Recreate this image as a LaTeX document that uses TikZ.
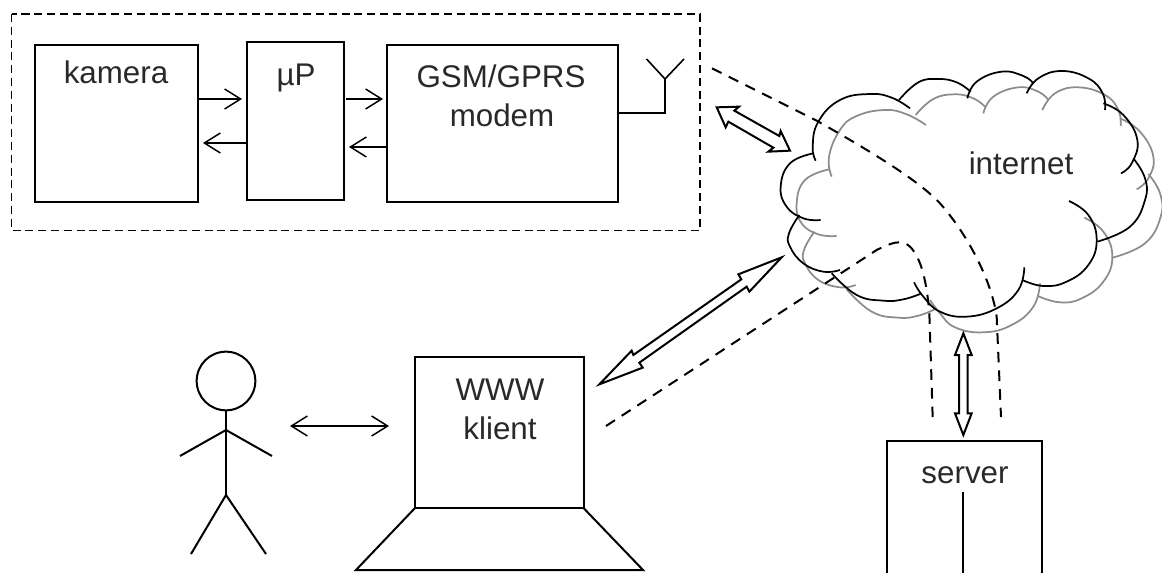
\documentclass[tikz,border=0pt]{standalone}
\usepackage{fontspec}
\setmainfont{Liberation Sans}
\usetikzlibrary{arrows.meta}
\definecolor{ink}{gray}{0.16}
\definecolor{cloudgray}{gray}{0.55}
\tikzset{
  boxed/.style={draw=black,line width=1.5pt,minimum width=#1,inner sep=0pt,outer sep=0pt},
  lbl/.style={anchor=base,text=ink,font=\fontsize{23.5pt}{28pt}\selectfont,inner sep=0pt},
  thinarrow/.style={line width=1.1pt,-{Straight Barb[length=12pt,width=15pt,line width=1.1pt]}},
  thinboth/.style={line width=1.1pt,{Straight Barb[length=12pt,width=15pt,line width=1.1pt]}-{Straight Barb[length=12pt,width=15pt,line width=1.1pt]}},
  solidline/.style={line width=1.5pt,line join=miter},
  dashline/.style={line width=1.5pt,dash pattern=on 8pt off 6pt},
  boxdash/.style={line width=1.2pt,dash pattern=on 6pt off 3.6pt},
  fat/.style={line width=1.5pt,line join=miter,fill=white},
  cb/.style={line width=1.3pt,black},
  cg/.style={line width=1.3pt,cloudgray},
}
\newcommand{\arcp}[2]{\draw[#1] plot[smooth,tension=0.75] coordinates {#2};}
\begin{document}
\begin{tikzpicture}[x=0.75pt,y=-0.75pt]
\useasboundingbox (0,0) rectangle (1162,573);
% device group
\draw[boxdash] (11.5,14) rectangle (700,230.5);
\draw[solidline] (35,45) rectangle (198,202);
\draw[solidline] (247,42) rectangle (344,200);
\draw[solidline] (387,45) rectangle (618,202);
\coordinate (ka) at (197,99); \coordinate (pa) at (242,99);
\coordinate (kb) at (203,143); \coordinate (pb) at (247,143);
\coordinate (pc) at (346,99); \coordinate (ga) at (383,99);
\coordinate (pd) at (349,147); \coordinate (gb) at (387,147);
\draw[thinarrow] (ka) -- (pa);
\draw[thinarrow] (pb) -- (kb);
\draw[thinarrow] (pc) -- (ga);
\draw[thinarrow] (gb) -- (pd);
\node[lbl] (tkam) at (116,84) {kamera};
\node[lbl] (tup) at (296,86) {µP};
\node[lbl] (tgsm) at (501,88) {GSM/GPRS};
\node[lbl] (tmod) at (502,127) {modem};
% antenna
\draw[solidline] (618,113) -- (665,113) -- (665,79);
\draw[line width=1.2pt] (646.5,59) -- (665,79) -- (684,59);
% cloud and its lines, in crop coordinates
\begin{scope}[shift={(690,50)},x=0.25pt,y=-0.25pt]
\arcp{cg}{(708,225)(650,193)(585,180)(500,198)(450,240)(417,320)(425,380)}
\arcp{cg}{(677,195)(730,147)(795,133)(850,145)(885,170)}
\arcp{cg}{(880,190)(910,140)(985,112)(1045,125)(1075,150)}
\arcp{cg}{(1057,180)(1095,130)(1165,112)(1245,135)(1285,180)(1292,228)}
\arcp{cg}{(1290,205)(1350,245)(1390,320)(1375,385)(1340,418)}
\arcp{cg}{(1375,372)(1410,430)(1412,500)(1365,580)(1268,623)}
\arcp{cg}{(1183,503)(1240,545)(1267,620)(1240,695)(1175,745)(1110,757)(1043,738)}
\arcp{cg}{(1050,700)(1030,770)(965,825)(880,847)(795,832)(750,790)(720,750)}
\arcp{cg}{(740,775)(685,797)(625,803)(545,785)(470,718)}
\arcp{cg}{(497,705)(450,712)(385,690)(345,640)(342,600)(373,545)}
\arcp{cg}{(440,558)(385,553)(335,520)(320,460)(345,390)(417,358)}
\arcp{cb}{(660,175)(605,143)(540,132)(450,150)(385,215)(368,290)(377,332)}
\arcp{cb}{(627,150)(685,97)(745,87)(800,97)(842,125)}
\arcp{cb}{(832,145)(860,95)(935,65)(1000,78)(1030,100)}
\arcp{cb}{(1010,130)(1045,85)(1115,63)(1195,85)(1238,130)(1245,180)}
\arcp{cb}{(1240,160)(1300,195)(1342,270)(1325,340)(1293,370)}
\arcp{cb}{(1330,325)(1365,385)(1365,450)(1320,530)(1222,575)}
\arcp{cb}{(1137,453)(1195,495)(1220,570)(1195,645)(1130,695)(1060,708)(997,690)}
\arcp{cb}{(1003,652)(985,720)(920,775)(830,800)(750,785)(700,740)(672,697)}
\arcp{cb}{(695,730)(640,748)(580,752)(500,735)(425,670)}
\arcp{cb}{(450,660)(400,665)(340,640)(300,590)(297,550)(328,495)}
\arcp{cb}{(392,510)(340,505)(290,470)(272,410)(300,340)(370,310)}
\draw[dashline] (66,55) -- (380,212) .. controls (520,292) and (680,385) .. (750,460)
  .. controls (830,550) and (905,690) .. (920,800) -- (933,1101);
\draw[dashline] (-252,1128) -- (560,600) .. controls (600,580) and (635,565) .. (660,590)
  .. controls (700,630) and (712,720) .. (718,790) -- (728,1101);
\draw[fat] (80,172) -- (147,170) -- (133,182) -- (268,258) -- (272,243) -- (300,302) -- (235,305) -- (250,293) -- (115,215) -- (107,232) -- cycle;
\end{scope}
\node[lbl] (tnet) at (1021,175) {internet};
% arrows in the lower crop
\begin{scope}[shift={(570,240)},x=0.25pt,y=-0.25pt]
\draw[fat] (635,52) -- (505,103) -- (514,118) -- (190,345) -- (185,332) -- (88,433) -- (218,383) -- (208,368) -- (530,140) -- (538,155) -- cycle;
\draw[fat] (1180,280) -- (1155,345) -- (1167,345) -- (1167,520) -- (1155,520) -- (1180,585) -- (1205,520) -- (1193,520) -- (1193,345) -- (1205,345) -- cycle;
\end{scope}
% person
\node[draw=black,line width=1.5pt,circle,minimum size=44pt,inner sep=0pt,outer sep=0pt] (head) at (226,381) {};
\coordinate (hip) at (226,495);
\coordinate (neck) at (226,430);
\draw[solidline] (head.south) -- (hip);
\draw[solidline] (180,456) -- (neck) -- (272,456);
\draw[solidline] (191,554) -- (hip) -- (266,554);
\coordinate (pr) at (290,426); \coordinate (wl) at (389,426);
\draw[thinboth] (pr) -- (wl);
% client
\draw[solidline] (415,357) rectangle (583.5,508);
\draw[solidline] (415,508) -- (356,570) -- (643,570) -- (583.5,508);
\node[lbl] (twww) at (500,400) {WWW};
\node[lbl] (tkli) at (500,439) {klient};
% server
\draw[solidline] (887,573) -- (887,441) -- (1042,441) -- (1042,573);
\draw[solidline] (963,492) -- (963,573);
\node[lbl] (tsrv) at (965,483) {server};
\end{tikzpicture}
\end{document}
